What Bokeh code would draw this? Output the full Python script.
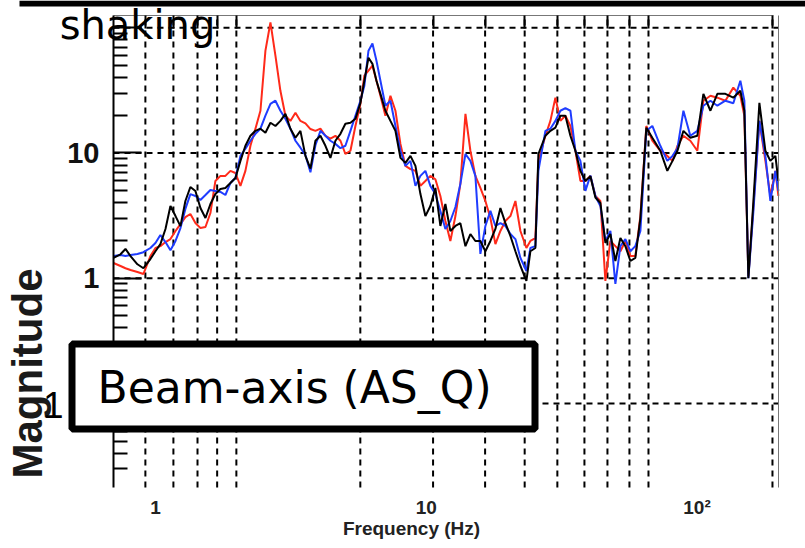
import math
from bokeh.plotting import figure
from bokeh.models import FixedTicker, Label, BoxAnnotation, Range1d, LogAxis
from bokeh.embed import file_html
from bokeh.resources import INLINE

# ---- data ----
freq = [0.70, 0.743, 0.775, 0.809, 0.858, 0.903, 0.958, 1.00, 1.043, 1.089,
        1.136, 1.186, 1.237, 1.29, 1.346, 1.405, 1.466, 1.53, 1.596, 1.665,
        1.738, 1.813, 1.892, 1.974, 2.06, 2.149, 2.243, 2.34, 2.442, 2.548,
        2.659, 2.774, 2.894, 3.02, 3.151, 3.289, 3.431, 3.58, 3.736, 3.898,
        4.067, 4.244, 4.428, 4.62, 4.822, 5.03, 5.25, 5.477, 5.715, 5.91,
        6.12, 6.33, 6.55, 6.775, 7.069, 7.376, 7.697, 8.031, 8.38, 8.744,
        9.124, 9.52, 9.93, 10.36, 10.81, 11.28, 11.77, 12.28, 12.82, 13.37,
        13.96, 14.56, 15.19, 15.85, 16.54, 17.26, 18.01, 18.79, 19.61, 20.46,
        21.35, 22.28, 23.44, 24.25, 25.3, 25.96, 27.55, 28.75, 30.0, 31.3,
        32.66, 34.08, 35.56, 37.1, 38.71, 40.4, 42.15, 43.98, 45.89, 47.88,
        49.96, 52.13, 54.4, 56.76, 59.2, 61.8, 65.0, 68.4, 73.2, 77.7,
        81.2, 84.7, 89.1, 94.5, 100.3, 105.6, 112.1, 118.9, 127.3, 136.2,
        144.6, 149.6, 154.8, 161.6, 170.0, 178.9, 186.6, 194.8, 199.8]

mag_red = [1.32, 1.25, 1.20, 1.16, 1.12, 1.08, 1.50, 1.74, 1.80, 1.94,
           2.05, 2.38, 2.70, 3.07, 3.25, 2.75, 2.51, 2.56, 3.31, 5.97,
           6.55, 6.55, 7.18, 6.91, 5.45, 7.18, 11.4, 15.6, 21.7, 65.5,
           110, 59.7, 31.3, 19.8, 18.0, 20.9, 18.0, 17.2, 15.5, 15.0,
           15.6, 13.7, 13.0, 13.7, 12.5, 9.8, 10.4, 16.4, 24.6, 41.3,
           45.3, 49.7, 37.7, 28.6, 19.8, 28.6, 21.7, 11.8, 7.87, 7.43,
           7.18, 5.45, 5.97, 6.55, 6.16, 4.53, 2.86, 1.98, 3.13, 5.66,
           20.5, 10.4, 6.55, 5.25, 4.13, 3.02, 1.87, 2.38, 2.86, 3.13,
           4.13, 2.38, 1.74, 1.98, 2.09, 8.6, 13.7, 18.0, 27.6, 18.0,
           19.8, 16.4, 10.4, 5.97, 5.97, 6.55, 4.53, 4.13, 0.95, 1.98,
           1.80, 1.64, 1.98, 1.50, 1.50, 3.13, 16.4, 12.5, 10.4, 9.46,
           8.63, 11.4, 13.7, 12.5, 10.4, 26.1, 28.6, 27.6, 26.1, 33.2,
           28.6, 19.8, 1.04, 3.77, 18.0, 8.63, 4.53, 7.18, 4.53]

mag_blue = [1.50, 1.53, 1.50, 1.53, 1.56, 1.61, 1.74, 1.91, 2.21, 1.94,
            1.67, 1.98, 2.51, 3.57, 4.69, 4.53, 4.21, 4.61, 5.06, 4.97,
            4.88, 4.61, 5.75, 6.31, 9.46, 10.8, 12.5, 14.2, 15.6, 19.8,
            24.6, 26.1, 21.7, 18.7, 15.6, 12.5, 11.0, 9.6, 7.0, 11.5,
            15.0, 13.7, 12.5, 11.8, 10.9, 11.4, 15.0, 19.8, 26.1, 34.4,
            65.5, 74.6, 54.4, 37.7, 23.8, 26.1, 16.4, 10.4, 7.87, 8.63,
            5.45, 6.55, 7.18, 5.45, 4.69, 3.44, 2.47, 2.86, 3.70, 5.66,
            9.8, 8.63, 6.55, 1.56, 2.61, 3.44, 2.61, 2.75, 2.61, 2.25,
            2.05, 1.45, 1.14, 1.74, 1.80, 7.2, 15.0, 15.6, 18.0, 21.7,
            22.8, 21.7, 10.4, 8.63, 4.97, 6.6, 4.53, 3.77, 1.98, 2.38,
            0.90, 1.80, 2.05, 1.64, 1.80, 2.38, 15.0, 16.4, 11.4, 8.63,
            9.46, 10.9, 21.7, 13.7, 15.0, 23.8, 26.1, 23.8, 26.1, 24.9,
            37.7, 26.1, 1.0, 3.44, 18.0, 9.46, 4.13, 7.18, 4.97]

mag_black = [1.45, 1.55, 1.71, 1.50, 1.29, 1.20, 1.42, 1.64, 1.87, 2.47,
             3.77, 3.13, 2.60, 4.13, 5.34, 4.97, 3.63, 3.02, 3.91, 4.69,
             5.15, 5.25, 5.75, 6.31, 8.63, 11.4, 13.7, 15.0, 15.6, 14.5,
             17.4, 16.4, 18.0, 20.5, 15.6, 13.2, 15.0, 9.46, 7.5, 12.5,
             13.7, 11.4, 9.12, 12.5, 14.2, 17.1, 17.4, 18.7, 25.1, 37.7,
             57.5, 51.4, 37.7, 29.6, 21.7, 18.0, 15.0, 9.12, 8.32, 9.46,
             7.87, 4.69, 3.13, 3.77, 5.25, 2.61, 3.91, 2.38, 2.61, 2.75,
             1.80, 2.25, 1.98, 1.98, 1.64, 1.98, 2.47, 3.63, 2.75, 2.17,
             1.64, 1.25, 0.95, 1.64, 1.74, 9.8, 13.7, 15.0, 15.9, 19.8,
             19.8, 13.7, 10.4, 7.18, 5.97, 6.5, 4.4, 3.98, 1.91, 2.25,
             1.37, 2.09, 1.80, 1.37, 1.45, 3.02, 15.9, 13.2, 10.4, 7.18,
             8.63, 10.4, 15.0, 13.2, 13.7, 29.6, 21.7, 29.6, 29.6, 27.6,
             31.3, 21.7, 1.0, 4.13, 25.1, 10.4, 8.63, 9.46, 5.97]

x_ticks = [1, 10, 100]
x_tick_labels = ["1", "10", "10\u00b2"]
y_ticks = [0.1, 1, 10, 100]
y_tick_labels = ["", "1", "10", ""]
y_minor = [0.03, 0.04, 0.05, 0.06, 0.07, 0.08, 0.09,
           0.2, 0.3, 0.4, 0.5, 0.6, 0.7, 0.8, 0.9,
           2, 3, 4, 5, 6, 7, 8, 9,
           20, 30, 40, 50, 60, 70, 80, 90]
grid_freqs = [0.918, 1.165, 1.43, 1.69, 1.99, 5.71, 10.6, 16.5, 23.1,
              30.5, 38.4, 46.7, 56.3, 66.2, 190]

# axis limits of the plotting box
X_LO, X_HI = 0.7, 200.0
Y_LO, Y_HI = 0.0213, 125.0

# ---- layout: the frame fills the whole canvas, the plotting box sits inside ----
W, H = 805, 548
BOX_L, BOX_R, BOX_T, BOX_B = 113, 778, 15, 487
lx = (math.log10(X_HI) - math.log10(X_LO)) / (BOX_R - BOX_L)
ly = (math.log10(Y_HI) - math.log10(Y_LO)) / (BOX_B - BOX_T)
x_start = 10 ** (math.log10(X_LO) - BOX_L * lx)
x_end = 10 ** (math.log10(X_HI) + (W - BOX_R) * lx)
y_start = 10 ** (math.log10(Y_LO) - (H - BOX_B) * ly)
y_end = 10 ** (math.log10(Y_HI) + BOX_T * ly)

FONT = "Liberation Sans"
GRID = dict(line_color="black", line_width=2, line_dash="6 5")

p = figure(width=W, height=H, x_axis_type="log", y_axis_type="log",
           x_range=Range1d(x_start, x_end), y_range=Range1d(y_start, y_end),
           output_backend="svg", toolbar_location=None,
           min_border=0, min_border_left=0, min_border_right=0,
           min_border_top=0, min_border_bottom=0)
p.background_fill_color = "white"
p.border_fill_color = "white"
p.outline_line_color = None
p.xgrid.visible = False
p.ygrid.visible = False

# grid lines (dotted) restricted to the plotting box
p.segment(x0=grid_freqs, y0=[Y_LO] * len(grid_freqs), x1=grid_freqs,
          y1=[Y_HI] * len(grid_freqs), **GRID)
p.segment(x0=[X_LO] * len(y_ticks), y0=y_ticks, x1=[X_HI] * len(y_ticks),
          y1=y_ticks, **GRID)

# data
p.line(freq, mag_red, line_color="#ff2a1a", line_width=2)
p.line(freq, mag_blue, line_color="#1f3cff", line_width=2)
p.line(freq, mag_black, line_color="black", line_width=2)

# x axis (bottom edge of the box)
xa = p.xaxis[0]
xa.fixed_location = Y_LO
xa.bounds = (X_LO, X_HI)
xa.ticker = FixedTicker(ticks=x_ticks)
xa.major_label_overrides = dict(zip(x_ticks, x_tick_labels))
xa.axis_line_color = None
xa.major_tick_line_color = None
xa.minor_tick_line_color = None
xa.major_label_text_font = FONT
xa.major_label_text_font_style = "bold"
xa.major_label_text_font_size = "19px"
xa.major_label_text_color = "#222222"
xa.major_label_standoff = 3

# y axis (left edge of the box)
ya = p.yaxis[0]
ya.fixed_location = X_LO
ya.bounds = (Y_LO, Y_HI)
ya.ticker = FixedTicker(ticks=y_ticks, minor_ticks=y_minor)
ya.major_label_overrides = dict(zip(y_ticks, y_tick_labels))
ya.axis_line_width = 2
ya.axis_line_color = "black"
ya.major_tick_in = 28
ya.major_tick_out = 0
ya.minor_tick_in = 14
ya.minor_tick_out = 0
ya.major_tick_line_width = 2
ya.minor_tick_line_width = 2
ya.major_label_text_font = FONT
ya.major_label_text_font_style = "bold"
ya.major_label_text_font_size = "29px"
ya.major_label_text_color = "#111111"
ya.major_label_standoff = 14

# top and right edges of the box
top = LogAxis(fixed_location=Y_HI, bounds=(X_LO, 191.0),
              ticker=FixedTicker(ticks=grid_freqs, minor_ticks=[]),
              axis_line_color="#777777", axis_line_width=1,
              major_tick_in=13, major_tick_out=0, major_tick_line_width=2,
              major_label_text_alpha=0.0, major_label_text_font_size="1px")
p.add_layout(top, "above")
right = LogAxis(fixed_location=X_HI, bounds=(Y_LO, Y_HI),
                ticker=FixedTicker(ticks=[], minor_ticks=[]),
                axis_line_color="#777777", axis_line_width=1,
                major_label_text_alpha=0.0, major_label_text_font_size="1px")
p.add_layout(right, "right")

# black band at the top edge
p.add_layout(BoxAnnotation(left=19, right=W, top=H, bottom=H - 6,
                           left_units="screen", right_units="screen",
                           top_units="screen", bottom_units="screen",
                           fill_color="black", fill_alpha=1.0, line_alpha=0))

# texts (screen units measured from the canvas' bottom-left corner)
p.add_layout(Label(x=137, y=H - 24, x_units="screen", y_units="screen",
                   text="shaking", text_align="center", text_font="DejaVu Sans",
                   text_font_size="40px", text_baseline="middle", text_color="black"))
p.add_layout(Label(x=27, y=H - 373, x_units="screen", y_units="screen",
                   text="Magnitude", angle=math.pi / 2, text_align="center",
                   text_baseline="middle", text_font=FONT, text_font_style="bold",
                   text_font_size="42px", text_color="#1a1a1a"))
p.add_layout(Label(x=411, y=H - 528, x_units="screen", y_units="screen",
                   text="Frequency (Hz)", text_align="center", text_baseline="middle",
                   text_font=FONT, text_font_style="bold", text_font_size="19px",
                   text_color="#222222"))
p.add_layout(Label(x=63, y=H - 404, x_units="screen", y_units="screen",
                   text="1", text_align="right", text_baseline="middle",
                   text_font=FONT, text_font_size="37px", text_color="black"))

# boxed annotation
p.add_layout(BoxAnnotation(left=71.5, right=534.5, top=H - 343.5, bottom=H - 428.5,
                           left_units="screen", right_units="screen",
                           top_units="screen", bottom_units="screen",
                           fill_color="white", fill_alpha=1.0,
                           line_color="black", line_alpha=1.0, line_width=7))
p.add_layout(Label(x=294, y=H - 387, x_units="screen", y_units="screen",
                   text="Beam-axis (AS_Q)", text_align="center", text_baseline="middle",
                   text_font="DejaVu Sans", text_font_size="44px", text_color="black",
                   level="overlay"))

open("out.html", "w").write(file_html(p, INLINE))
